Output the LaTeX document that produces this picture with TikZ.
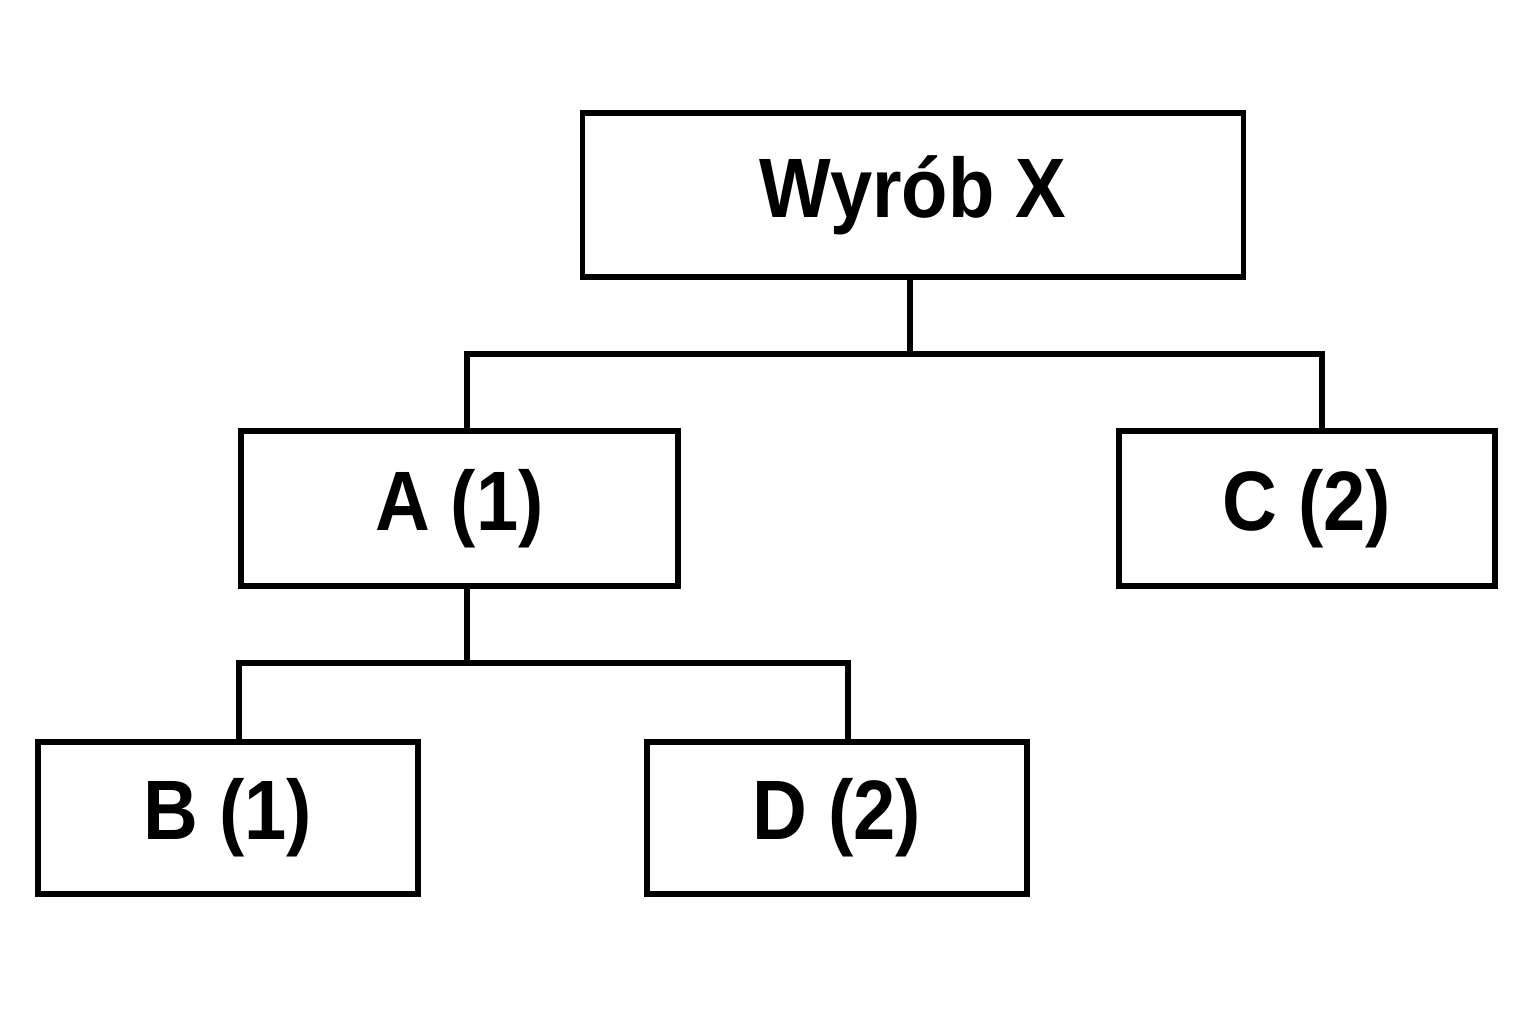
\documentclass[tikz,border=0pt]{standalone}
\usepackage{fontspec}
\setmainfont{Liberation Sans}[FakeStretch=0.9]
\usetikzlibrary{positioning}

\tikzset{
    part/.style={draw, line width=1.6pt, inner sep=0pt, font=\fontsize{24}{28}\selectfont\bfseries},
    link/.style={line width=1.5pt}
}

\begin{document}
\begin{tikzpicture}
\useasboundingbox (0,0) rectangle (15.36,-10.24);
\node[part, minimum width=6.61cm, minimum height=1.64cm] (X) at (9.13,-1.95) {Wyrób X};
\node[part, minimum width=4.37cm, minimum height=1.55cm] (A) at (4.595,-5.085) {A (1)};
\node[part, minimum width=3.76cm, minimum height=1.55cm] (C) at (13.07,-5.085) {C (2)};
\node[part, minimum width=3.80cm, minimum height=1.52cm] (B) at (2.28,-8.18) {B (1)};
\node[part, minimum width=3.80cm, minimum height=1.52cm] (D) at (8.37,-8.18) {D (2)};
% first level
\coordinate (busX) at (9.10,-3.54);
\draw[link] (X.south -| busX) -- (busX);
\draw[link] ([xshift=0.075cm]A.north) |- (busX) -| ([xshift=0.15cm]C.north);
% second level
\coordinate (busA) at (4.67,-6.63);
\draw[link] (A.south -| busA) -- (busA);
\draw[link] ([xshift=0.11cm]B.north) |- (busA) -| ([xshift=0.11cm]D.north);
\end{tikzpicture}
\end{document}
